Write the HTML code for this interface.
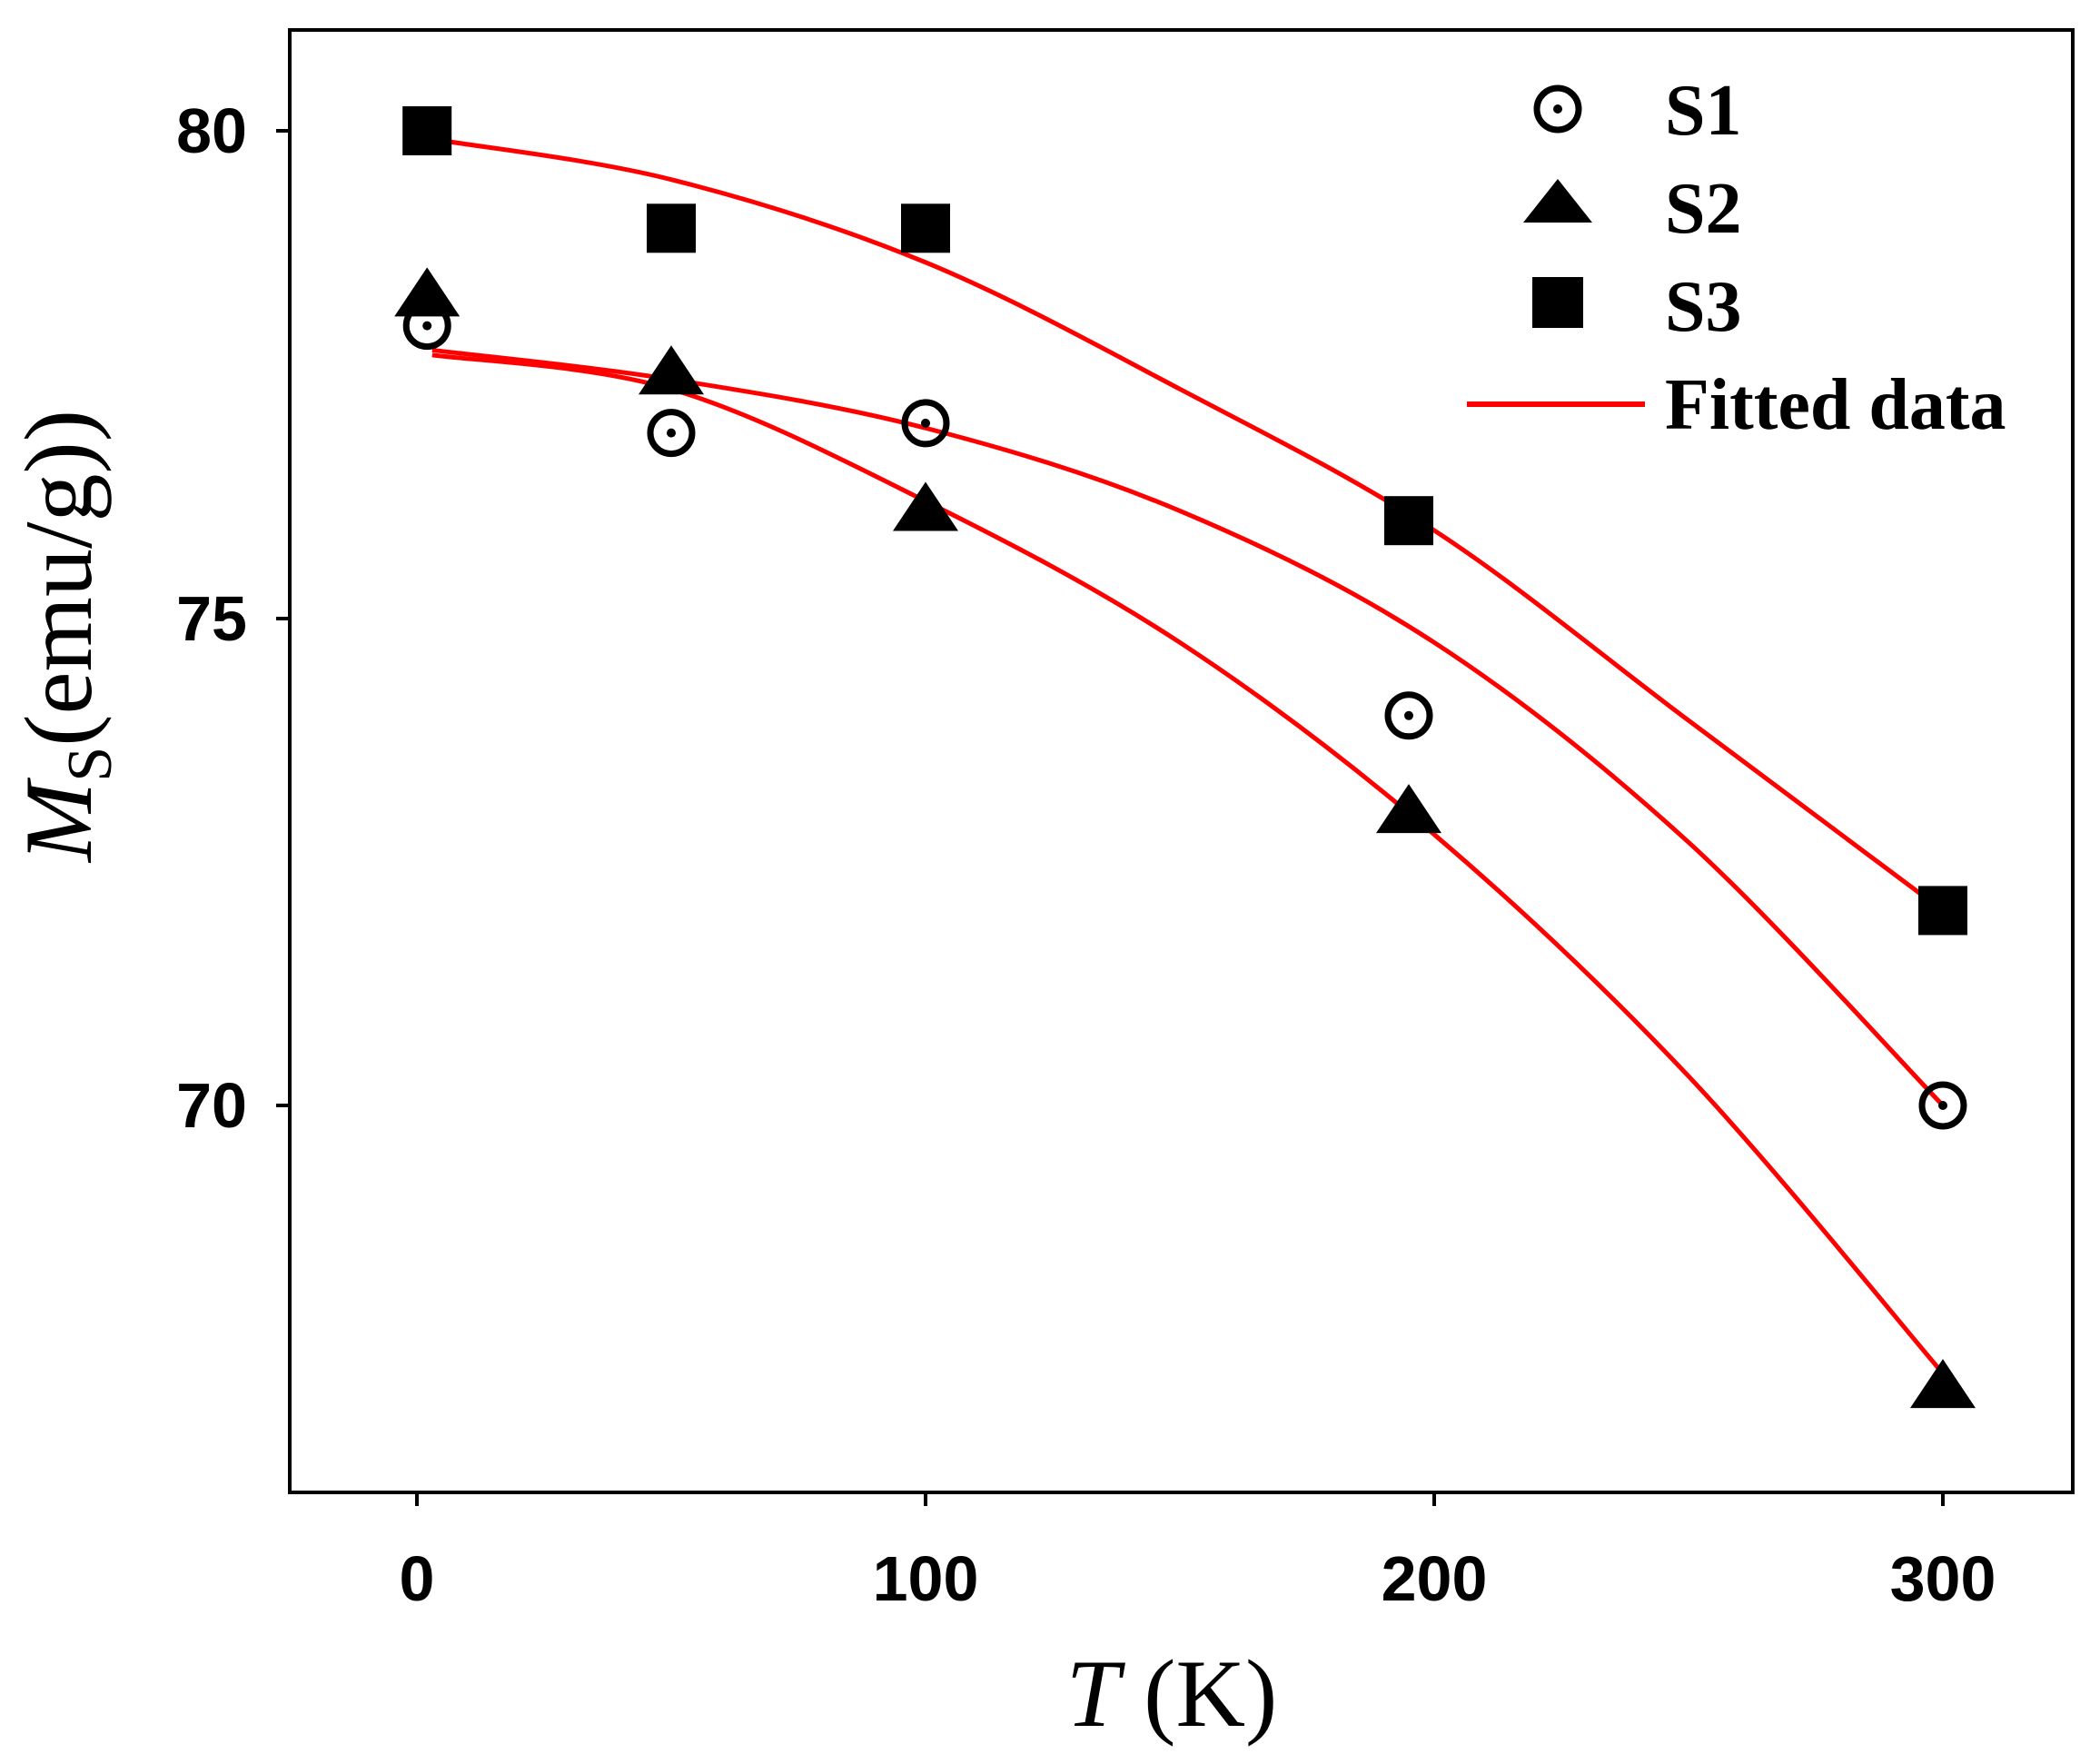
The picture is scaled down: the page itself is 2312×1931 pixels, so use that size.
<!DOCTYPE html>
<html><head><meta charset="utf-8"><style>
html,body{margin:0;padding:0;background:#fff;}
svg{display:block;}
</style></head><body>
<svg id="s" width="2312" height="1931" xmlns="http://www.w3.org/2000/svg">
<rect x="0" y="0" width="2312" height="1931" fill="#fff"/>
<rect x="319" y="33" width="1963" height="1610" fill="none" stroke="#000" stroke-width="4"/>
<g stroke="#000" stroke-width="4">
<line x1="459" y1="1643" x2="459" y2="1658"/>
<line x1="1019" y1="1643" x2="1019" y2="1658"/>
<line x1="1579" y1="1643" x2="1579" y2="1658"/>
<line x1="2139" y1="1643" x2="2139" y2="1658"/>
<line x1="304" y1="144" x2="319" y2="144"/>
<line x1="304" y1="681" x2="319" y2="681"/>
<line x1="304" y1="1217" x2="319" y2="1217"/>
</g>
<g font-family="Liberation Sans, sans-serif" font-weight="bold" font-size="70" fill="#000">
<text x="459" y="1762" text-anchor="middle">0</text>
<text x="1019" y="1762" text-anchor="middle">100</text>
<text x="1579" y="1762" text-anchor="middle">200</text>
<text x="2139" y="1762" text-anchor="middle">300</text>
<text x="272" y="168" text-anchor="end">80</text>
<text x="272" y="705" text-anchor="end">75</text>
<text x="272" y="1241" text-anchor="end">70</text>
</g>
<text x="1290" y="1900" text-anchor="middle" font-family="Liberation Serif, serif" font-size="106"><tspan font-style="italic">T</tspan> (K)</text>
<text transform="translate(100,700) rotate(-90)" text-anchor="middle" font-family="Liberation Serif, serif" font-size="106"><tspan font-style="italic">M</tspan><tspan font-size="70" dy="22">S</tspan><tspan dy="-22">(emu/g))</tspan></text>
<g id="fits" fill="none" stroke="#f00" stroke-width="5"></g>
<g id="pts"></g>
<g font-family="Liberation Serif, serif" font-weight="bold" font-size="80" fill="#000">
<text x="1833" y="148">S1</text>
<text x="1833" y="256">S2</text>
<text x="1833" y="364">S3</text>
<text x="1833" y="472">Fitted data</text>
</g>
<circle cx="1715" cy="120" r="23" fill="none" stroke="#000" stroke-width="7"/>
<circle cx="1715" cy="120" r="5" fill="#000"/>
<polygon points="1715,197 1677,245 1753,245" fill="#000"/>
<rect x="1687" y="305" width="56" height="56" fill="#000"/>
<line x1="1615" y1="445" x2="1811" y2="445" stroke="#f00" stroke-width="6"/>
</svg>
<script>
function X(t){return 459+t*5.6;}
function Y(v){return 144+(80-v)*107.3;}
var fits=[
[[5,79.9],[50,79.5],[100,78.65],[150,77.35],[200,75.9],[250,73.95],[300,72]],
[[3,77.75],[50,77.45],[100,76.95],[150,76.1],[200,74.75],[250,72.7],[300,70]],
[[3,77.7],[50,77.35],[100,76.2],[150,74.75],[200,72.78],[250,70.3],[300,67.25]]];
var g=document.getElementById('fits'),ns='http://www.w3.org/2000/svg';
fits.forEach(function(p){
 var P=p.map(function(a){return [X(a[0]),Y(a[1])];});
 var d='M'+P[0][0]+','+P[0][1];
 for(var i=0;i<P.length-1;i++){
  var p0=P[i-1]||P[i],p1=P[i],p2=P[i+1],p3=P[i+2]||P[i+1];
  d+=' C'+(p1[0]+(p2[0]-p0[0])/6)+','+(p1[1]+(p2[1]-p0[1])/6)+' '+(p2[0]-(p3[0]-p1[0])/6)+','+(p2[1]-(p3[1]-p1[1])/6)+' '+p2[0]+','+p2[1];
 }
 var e=document.createElementNS(ns,'path');e.setAttribute('d',d);g.appendChild(e);
});
var pts=document.getElementById('pts'),h='';
[[2,80],[50,79],[100,79],[195,76],[300,72]].forEach(function(a){var x=X(a[0]),y=Y(a[1]);h+='<rect x="'+(x-27)+'" y="'+(y-27)+'" width="54" height="54" fill="#000"/>';});
[[2,78.3],[50,77.5],[100,76.1],[195,73],[300,67.1]].forEach(function(a){var x=X(a[0]),y=Y(a[1]);h+='<polygon points="'+x+','+(y-32)+' '+(x-36)+','+(y+22)+' '+(x+36)+','+(y+22)+'" fill="#000"/>';});
[[2,78],[50,76.9],[100,77],[195,74],[300,70]].forEach(function(a){var x=X(a[0]),y=Y(a[1]);h+='<circle cx="'+x+'" cy="'+y+'" r="23" fill="none" stroke="#000" stroke-width="7"/><circle cx="'+x+'" cy="'+y+'" r="5" fill="#000"/>';});
pts.innerHTML=h;
</script>
</body></html>
